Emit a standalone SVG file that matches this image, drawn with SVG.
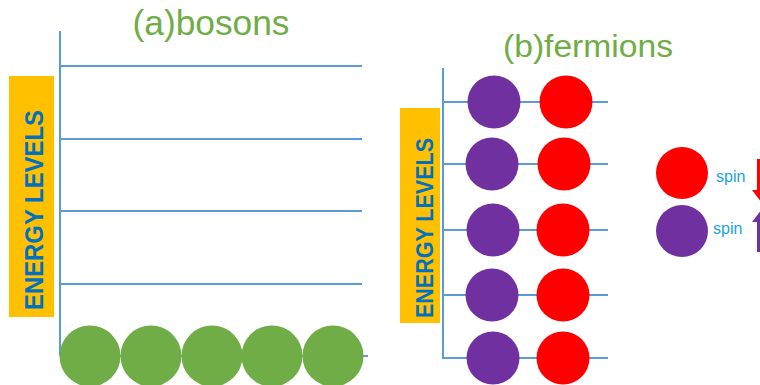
<svg xmlns="http://www.w3.org/2000/svg" width="760" height="385" viewBox="0 0 760 385">
<style>
.axis{stroke:#5B9BD5;stroke-width:2;fill:none}
.title{font-family:"Liberation Sans",Arial,sans-serif;fill:#70AD47;text-anchor:middle}
.el{font-family:"Liberation Sans",Arial,sans-serif;font-weight:bold;fill:#0070C0;text-anchor:middle}
.box{fill:#FFC000}
.g{fill:#70AD47}
.p{fill:#7030A0}
.r{fill:#FF0000}
.spin{font-family:"Liberation Sans",Arial,sans-serif;fill:#1AA3E0;font-size:16px}
</style>
<rect width="760" height="385" fill="#FFFFFF"/>
<g id="connectors">
  <path class="axis" d="M60 31V356M60 66H362M60 139H362M60 211H362M60 284H362M60 356H368"/>
  <path class="axis" d="M443 68V359M443 102H608M443 164H608M443 230H608M443 295H608M443 358H608"/>
</g>
<g id="title-a"><text class="title" x="211" y="35" font-size="35" textLength="157" lengthAdjust="spacingAndGlyphs">(a)bosons</text></g>
<g id="title-b"><text class="title" x="588" y="57" font-size="31" textLength="170" lengthAdjust="spacingAndGlyphs">(b)fermions</text></g>
<g id="label-a">
  <rect class="box" x="9" y="76" width="45" height="241"/>
  <text class="el" transform="translate(43 210) rotate(-90)" font-size="26" textLength="200" lengthAdjust="spacingAndGlyphs">ENERGY LEVELS</text>
</g>
<g id="label-b">
  <rect class="box" x="400" y="108" width="40" height="215"/>
  <text class="el" transform="translate(433 228) rotate(-90)" font-size="24" textLength="180" lengthAdjust="spacingAndGlyphs">ENERGY LEVELS</text>
</g>
<g id="bosons">
  <circle class="g" cx="90" cy="356" r="30.5"/>
  <circle class="g" cx="151" cy="356" r="30.5"/>
  <circle class="g" cx="212" cy="356" r="30.5"/>
  <circle class="g" cx="272" cy="356" r="30.5"/>
  <circle class="g" cx="333" cy="356" r="30.5"/>
</g>
<g id="fermions">
  <circle class="p" cx="494" cy="102" r="26.5"/>
  <circle class="r" cx="566" cy="102" r="26.5"/>
  <circle class="p" cx="492" cy="164" r="26.5"/>
  <circle class="r" cx="564" cy="164" r="26.5"/>
  <circle class="p" cx="493" cy="230" r="26.5"/>
  <circle class="r" cx="563" cy="230" r="26.5"/>
  <circle class="p" cx="492" cy="295" r="26.5"/>
  <circle class="r" cx="563" cy="295" r="26.5"/>
  <circle class="p" cx="493" cy="358" r="26.5"/>
  <circle class="r" cx="563" cy="358" r="26.5"/>
</g>
<g id="legend-down">
  <circle class="r" cx="682" cy="173" r="26"/>
  <text class="spin" x="716" y="182">spin</text>
  <path class="r" d="M757 159H768V190H772L762 203L752 190H757Z"/>
</g>
<g id="legend-up">
  <circle class="p" cx="682" cy="231" r="26"/>
  <text class="spin" x="713" y="234">spin</text>
  <path class="p" d="M757 252H768V222H772L762 209L752 222H757Z"/>
</g>
</svg>
